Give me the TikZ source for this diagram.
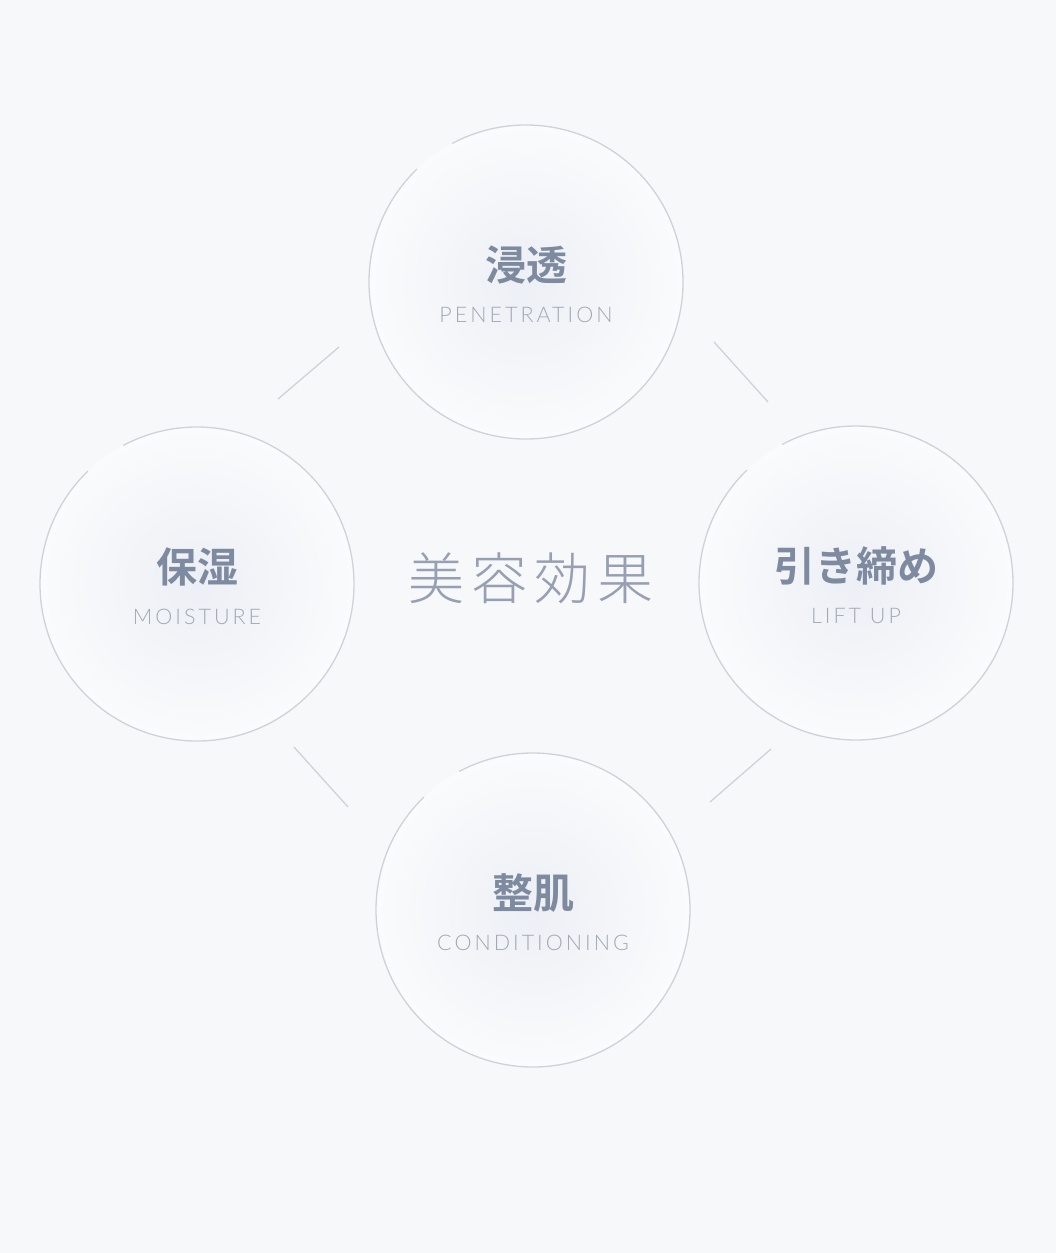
\documentclass[tikz,border=0pt]{standalone}
\usepackage{fontspec}
\usetikzlibrary{positioning}
\newfontfamily\jpfont{Noto Sans CJK JP}[BoldFont={* Bold}]
\newfontfamily\titlefont{Noto Sans CJK JP}[UprightFont={* Light}, LetterSpace=12]
\newfontfamily\enfont{Lato}[UprightFont={* Light}, LetterSpace=14]
\definecolor{pagebg}{HTML}{F7F8FA}
\definecolor{glow}{HTML}{ECEFF5}
\definecolor{rim}{HTML}{FAFBFC}
\definecolor{ringgray}{HTML}{CFD2D7}
\definecolor{jpblue}{HTML}{7D8A9F}
\definecolor{engray}{HTML}{A1A9B6}
\definecolor{titleblue}{HTML}{979FB3}
\tikzset{
     bubble/.style={circle, inner sep=0pt, outer sep=0pt, minimum size=314pt,
       inner color=glow, outer color=rim},
      ring/.style   = {draw=ringgray, line width=1.3pt},
      link/.style = {ringgray, line width=1.3pt},
      jplabel/.style = {font=\jpfont\bfseries\fontsize{41}{41}\selectfont, text=jpblue},
      enlabel/.style = {font=\enfont\fontsize{21.5}{21.5}\selectfont, text=engray},
      titlelabel/.style = {font=\titlefont\fontsize{56}{56}\selectfont, text=titleblue},
    }

\begin{document}
\begin{tikzpicture}[x=1pt,y=1pt,node distance=50pt,on grid]
        \fill[pagebg] (0,0) rectangle (1056,-1253);
        \useasboundingbox (0,0) rectangle (1056,-1253);
        \node [bubble] (pen) at (526,-282)   {};
        \node [bubble] (moi) at (197,-584)   {};
        \node [bubble] (lift) at (856,-583)  {};
        \node [bubble] (cond) at (533,-910)  {};
        \foreach \c in {pen,moi,lift,cond}
          \draw[ring] (\c.134) arc[start angle=134, end angle=478, radius=157];
        \node [titlelabel] (title) at (531,-578) {美容効果};
        \node [jplabel] (penjp) [above=17pt of pen]  {浸透};
        \node [enlabel] (penen) [below=of penjp]  {PENETRATION};
        \node [jplabel] (moijp) [above=17pt of moi]  {保湿};
        \node [enlabel] (moien) [below=of moijp]  {MOISTURE};
        \node [jplabel] (liftjp) [above=17pt of lift]  {引き締め};
        \node [enlabel] (liften) [below=of liftjp]  {LIFT UP};
        \node [jplabel] (condjp) [above=17pt of cond]  {整肌};
        \node [enlabel] (conden) [below=of condjp]  {CONDITIONING};
        \coordinate (tla) at (278,-399);
        \coordinate (tlb) at (339,-347);
        \coordinate (tra) at (714,-342);
        \coordinate (trb) at (768,-402);
        \coordinate (bra) at (771,-749);
        \coordinate (brb) at (710,-802);
        \coordinate (bla) at (294,-747);
        \coordinate (blb) at (348,-807);
        \path[link]
        (tla) edge (tlb)
        (tra) edge (trb)
        (bra) edge (brb)
        (bla) edge (blb);
    \end{tikzpicture}
\end{document}
